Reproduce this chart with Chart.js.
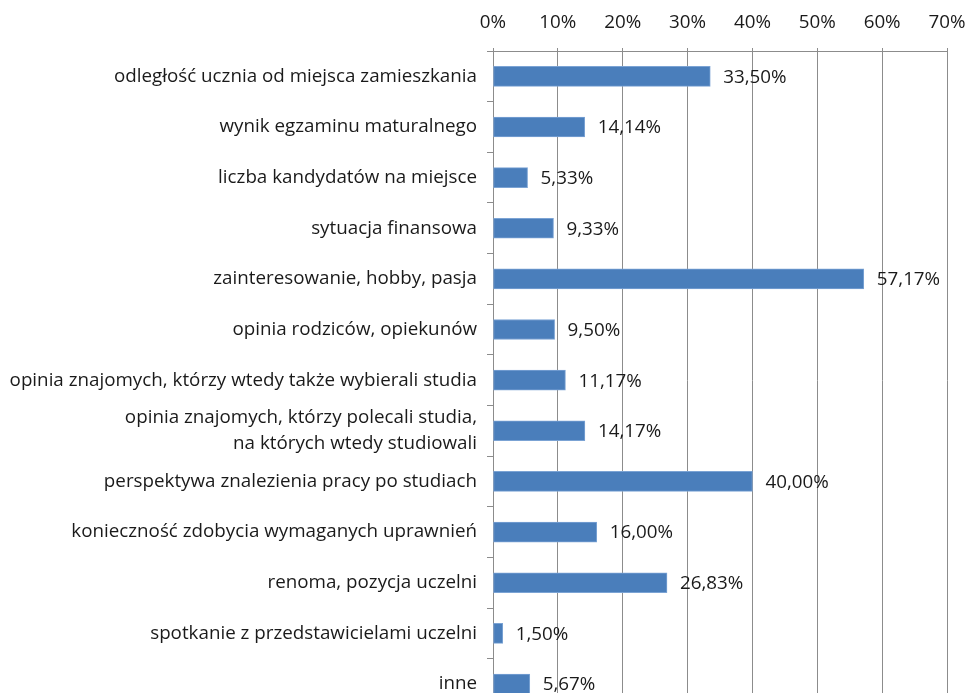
<!DOCTYPE html>
<html>
<head>
<meta charset="utf-8">
<script src="https://cdn.jsdelivr.net/npm/chart.js@4"></script>
<style>
  html, body { margin: 0; padding: 0; background: #fff; overflow: hidden; }
  #wrap { position: absolute; left: 0; top: 0; width: 971px; height: 732px; }
</style>
</head>
<body>
<div id="wrap"><canvas id="chart" width="971" height="732"></canvas></div>
<script>
const categories = [
  "odległość ucznia od miejsca zamieszkania",
  "wynik egzaminu maturalnego",
  "liczba kandydatów na miejsce",
  "sytuacja finansowa",
  "zainteresowanie, hobby, pasja",
  "opinia rodziców, opiekunów",
  "opinia znajomych, którzy wtedy także wybierali studia",
  ["opinia znajomych, którzy polecali studia,", "na których wtedy studiowali"],
  "perspektywa znalezienia pracy po studiach",
  "konieczność zdobycia wymaganych uprawnień",
  "renoma, pozycja uczelni",
  "spotkanie z przedstawicielami uczelni",
  "inne"
];
const values = [33.50, 14.14, 5.33, 9.33, 57.17, 9.50, 11.17, 14.17, 40.00, 16.00, 26.83, 1.50, 5.67];
const xTicks = [0, 10, 20, 30, 40, 50, 60, 70];

const fontFamily = "'Open Sans', sans-serif";
const fontSize = 18.8;
const textColor = "#1a1a1a";
const gridColor = "#8c8c8c";

// draws the value next to each bar, e.g. "33,50%"
const valueLabels = {
  id: "valueLabels",
  afterDatasetsDraw(chart) {
    const ctx = chart.ctx;
    const meta = chart.getDatasetMeta(0);
    ctx.save();
    ctx.font = fontSize + "px " + fontFamily;
    ctx.fillStyle = textColor;
    ctx.textAlign = "left";
    ctx.textBaseline = "middle";
    meta.data.forEach((bar, i) => {
      const txt = values[i].toFixed(2).replace(".", ",") + "%";
      ctx.fillText(txt, bar.x + 13, bar.y + 1);
    });
    ctx.restore();
  }
};

const ctx = document.getElementById("chart").getContext("2d");
new Chart(ctx, {
  type: "bar",
  data: {
    labels: categories,
    datasets: [{
      data: values,
      backgroundColor: "#4a7ebb",
      borderColor: "#7ba3d4",
      borderWidth: 1,
      borderSkipped: false,
      barThickness: 20
    }]
  },
  options: {
    indexAxis: "y",
    responsive: false,
    animation: false,
    layout: { padding: { top: 11, right: 24, bottom: 3, left: 0 } },
    plugins: {
      legend: { display: false },
      tooltip: { enabled: false }
    },
    scales: {
      x: {
        position: "top",
        min: 0,
        max: 70,
        afterBuildTicks(axis) {
          axis.ticks = xTicks.map(v => ({ value: v }));
        },
        afterFit(axis) {
          axis.height = 40;
          axis.paddingRight = 0;
          axis.paddingLeft = 0;
        },
        ticks: {
          callback: v => v + "%",
          color: textColor,
          font: { family: fontFamily, size: fontSize },
          padding: 14
        },
        grid: { color: gridColor, lineWidth: 1, drawTicks: true, tickLength: 3 },
        border: { color: gridColor, width: 1 }
      },
      y: {
        afterFit(axis) { axis.width = 493; },
        ticks: {
          color: textColor,
          font: { family: fontFamily, size: fontSize, lineHeight: 1.35 },
          padding: 10,
          autoSkip: false
        },
        grid: {
          offset: true,
          drawOnChartArea: false,
          drawTicks: true,
          tickLength: 6,
          color: gridColor
        },
        border: { color: gridColor, width: 1 }
      }
    }
  },
  plugins: [valueLabels]
});
</script>
</body>
</html>
